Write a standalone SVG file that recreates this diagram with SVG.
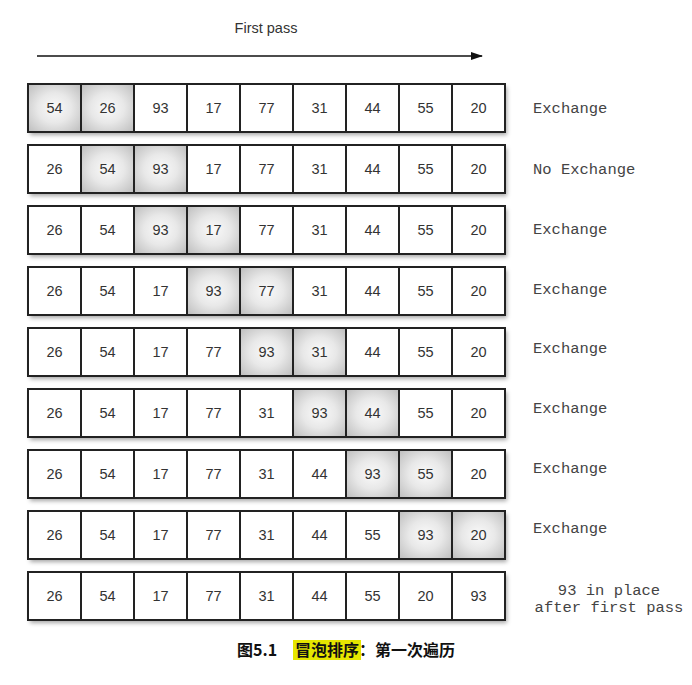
<svg xmlns="http://www.w3.org/2000/svg" width="692" height="685" viewBox="0 0 692 685">
<defs>
<radialGradient id="sh" cx="50%" cy="50%" r="70%">
<stop offset="0" stop-color="#fafafa"/>
<stop offset="0.45" stop-color="#e8e8e8"/>
<stop offset="1" stop-color="#bdbdbd"/>
</radialGradient>
<filter id="ds" x="-5%" y="-20%" width="112%" height="160%">
<feDropShadow dx="2" dy="3" stdDeviation="2" flood-color="#000" flood-opacity="0.35"/>
</filter>
<marker id="ah" markerWidth="12" markerHeight="8" refX="11" refY="4" orient="auto" markerUnits="userSpaceOnUse">
<path d="M0,0 L12,4 L0,8 z" fill="#111"/>
</marker>
</defs>
<style>
.c{fill:#fff;stroke:#222;stroke-width:2}
.s{fill:url(#sh);stroke:#222;stroke-width:2}
.n{font-family:"Liberation Sans",Arial,sans-serif;font-size:14.5px;fill:#333;text-anchor:middle}
.l{font-family:"Liberation Mono","Courier New",monospace;font-size:15.5px;fill:#444}
.t{font-family:"Liberation Sans",Arial,sans-serif;font-size:14.5px;fill:#333;text-anchor:middle}
.cap{font-family:"Noto Sans CJK SC","Liberation Serif",sans-serif;font-size:16px;font-weight:bold;fill:#111}
</style>
<rect width="692" height="685" fill="#fff"/>
<g id="header">
<text class="t" x="266" y="33">First pass</text>
</g>
<g id="connectors">
<line x1="37" y1="56" x2="482" y2="56" stroke="#111" stroke-width="1.5" marker-end="url(#ah)"/>
</g>
<g id="row1" transform="translate(0,84)">
<rect x="28" y="0" width="477" height="48" fill="#fff" filter="url(#ds)"/>
<rect class="s" x="28" y="0" width="53" height="48"/><rect class="s" x="81" y="0" width="53" height="48"/><rect class="c" x="134" y="0" width="53" height="48"/><rect class="c" x="187" y="0" width="53" height="48"/><rect class="c" x="240" y="0" width="53" height="48"/><rect class="c" x="293" y="0" width="53" height="48"/><rect class="c" x="346" y="0" width="53" height="48"/><rect class="c" x="399" y="0" width="53" height="48"/><rect class="c" x="452" y="0" width="53" height="48"/>
<text class="n" y="29"><tspan x="54.5">54</tspan><tspan x="107.5">26</tspan><tspan x="160.5">93</tspan><tspan x="213.5">17</tspan><tspan x="266.5">77</tspan><tspan x="319.5">31</tspan><tspan x="372.5">44</tspan><tspan x="425.5">55</tspan><tspan x="478.5">20</tspan></text>
<text class="l" x="533" y="29">Exchange</text>
</g>
<g id="row2" transform="translate(0,145)">
<rect x="28" y="0" width="477" height="48" fill="#fff" filter="url(#ds)"/>
<rect class="c" x="28" y="0" width="53" height="48"/><rect class="s" x="81" y="0" width="53" height="48"/><rect class="s" x="134" y="0" width="53" height="48"/><rect class="c" x="187" y="0" width="53" height="48"/><rect class="c" x="240" y="0" width="53" height="48"/><rect class="c" x="293" y="0" width="53" height="48"/><rect class="c" x="346" y="0" width="53" height="48"/><rect class="c" x="399" y="0" width="53" height="48"/><rect class="c" x="452" y="0" width="53" height="48"/>
<text class="n" y="29"><tspan x="54.5">26</tspan><tspan x="107.5">54</tspan><tspan x="160.5">93</tspan><tspan x="213.5">17</tspan><tspan x="266.5">77</tspan><tspan x="319.5">31</tspan><tspan x="372.5">44</tspan><tspan x="425.5">55</tspan><tspan x="478.5">20</tspan></text>
<text class="l" x="533" y="29">No Exchange</text>
</g>
<g id="row3" transform="translate(0,206)">
<rect x="28" y="0" width="477" height="48" fill="#fff" filter="url(#ds)"/>
<rect class="c" x="28" y="0" width="53" height="48"/><rect class="c" x="81" y="0" width="53" height="48"/><rect class="s" x="134" y="0" width="53" height="48"/><rect class="s" x="187" y="0" width="53" height="48"/><rect class="c" x="240" y="0" width="53" height="48"/><rect class="c" x="293" y="0" width="53" height="48"/><rect class="c" x="346" y="0" width="53" height="48"/><rect class="c" x="399" y="0" width="53" height="48"/><rect class="c" x="452" y="0" width="53" height="48"/>
<text class="n" y="29"><tspan x="54.5">26</tspan><tspan x="107.5">54</tspan><tspan x="160.5">93</tspan><tspan x="213.5">17</tspan><tspan x="266.5">77</tspan><tspan x="319.5">31</tspan><tspan x="372.5">44</tspan><tspan x="425.5">55</tspan><tspan x="478.5">20</tspan></text>
<text class="l" x="533" y="28">Exchange</text>
</g>
<g id="row4" transform="translate(0,267)">
<rect x="28" y="0" width="477" height="48" fill="#fff" filter="url(#ds)"/>
<rect class="c" x="28" y="0" width="53" height="48"/><rect class="c" x="81" y="0" width="53" height="48"/><rect class="c" x="134" y="0" width="53" height="48"/><rect class="s" x="187" y="0" width="53" height="48"/><rect class="s" x="240" y="0" width="53" height="48"/><rect class="c" x="293" y="0" width="53" height="48"/><rect class="c" x="346" y="0" width="53" height="48"/><rect class="c" x="399" y="0" width="53" height="48"/><rect class="c" x="452" y="0" width="53" height="48"/>
<text class="n" y="29"><tspan x="54.5">26</tspan><tspan x="107.5">54</tspan><tspan x="160.5">17</tspan><tspan x="213.5">93</tspan><tspan x="266.5">77</tspan><tspan x="319.5">31</tspan><tspan x="372.5">44</tspan><tspan x="425.5">55</tspan><tspan x="478.5">20</tspan></text>
<text class="l" x="533" y="27">Exchange</text>
</g>
<g id="row5" transform="translate(0,328)">
<rect x="28" y="0" width="477" height="48" fill="#fff" filter="url(#ds)"/>
<rect class="c" x="28" y="0" width="53" height="48"/><rect class="c" x="81" y="0" width="53" height="48"/><rect class="c" x="134" y="0" width="53" height="48"/><rect class="c" x="187" y="0" width="53" height="48"/><rect class="s" x="240" y="0" width="53" height="48"/><rect class="s" x="293" y="0" width="53" height="48"/><rect class="c" x="346" y="0" width="53" height="48"/><rect class="c" x="399" y="0" width="53" height="48"/><rect class="c" x="452" y="0" width="53" height="48"/>
<text class="n" y="29"><tspan x="54.5">26</tspan><tspan x="107.5">54</tspan><tspan x="160.5">17</tspan><tspan x="213.5">77</tspan><tspan x="266.5">93</tspan><tspan x="319.5">31</tspan><tspan x="372.5">44</tspan><tspan x="425.5">55</tspan><tspan x="478.5">20</tspan></text>
<text class="l" x="533" y="25">Exchange</text>
</g>
<g id="row6" transform="translate(0,389)">
<rect x="28" y="0" width="477" height="48" fill="#fff" filter="url(#ds)"/>
<rect class="c" x="28" y="0" width="53" height="48"/><rect class="c" x="81" y="0" width="53" height="48"/><rect class="c" x="134" y="0" width="53" height="48"/><rect class="c" x="187" y="0" width="53" height="48"/><rect class="c" x="240" y="0" width="53" height="48"/><rect class="s" x="293" y="0" width="53" height="48"/><rect class="s" x="346" y="0" width="53" height="48"/><rect class="c" x="399" y="0" width="53" height="48"/><rect class="c" x="452" y="0" width="53" height="48"/>
<text class="n" y="29"><tspan x="54.5">26</tspan><tspan x="107.5">54</tspan><tspan x="160.5">17</tspan><tspan x="213.5">77</tspan><tspan x="266.5">31</tspan><tspan x="319.5">93</tspan><tspan x="372.5">44</tspan><tspan x="425.5">55</tspan><tspan x="478.5">20</tspan></text>
<text class="l" x="533" y="24">Exchange</text>
</g>
<g id="row7" transform="translate(0,450)">
<rect x="28" y="0" width="477" height="48" fill="#fff" filter="url(#ds)"/>
<rect class="c" x="28" y="0" width="53" height="48"/><rect class="c" x="81" y="0" width="53" height="48"/><rect class="c" x="134" y="0" width="53" height="48"/><rect class="c" x="187" y="0" width="53" height="48"/><rect class="c" x="240" y="0" width="53" height="48"/><rect class="c" x="293" y="0" width="53" height="48"/><rect class="s" x="346" y="0" width="53" height="48"/><rect class="s" x="399" y="0" width="53" height="48"/><rect class="c" x="452" y="0" width="53" height="48"/>
<text class="n" y="29"><tspan x="54.5">26</tspan><tspan x="107.5">54</tspan><tspan x="160.5">17</tspan><tspan x="213.5">77</tspan><tspan x="266.5">31</tspan><tspan x="319.5">44</tspan><tspan x="372.5">93</tspan><tspan x="425.5">55</tspan><tspan x="478.5">20</tspan></text>
<text class="l" x="533" y="23">Exchange</text>
</g>
<g id="row8" transform="translate(0,511)">
<rect x="28" y="0" width="477" height="48" fill="#fff" filter="url(#ds)"/>
<rect class="c" x="28" y="0" width="53" height="48"/><rect class="c" x="81" y="0" width="53" height="48"/><rect class="c" x="134" y="0" width="53" height="48"/><rect class="c" x="187" y="0" width="53" height="48"/><rect class="c" x="240" y="0" width="53" height="48"/><rect class="c" x="293" y="0" width="53" height="48"/><rect class="c" x="346" y="0" width="53" height="48"/><rect class="s" x="399" y="0" width="53" height="48"/><rect class="s" x="452" y="0" width="53" height="48"/>
<text class="n" y="29"><tspan x="54.5">26</tspan><tspan x="107.5">54</tspan><tspan x="160.5">17</tspan><tspan x="213.5">77</tspan><tspan x="266.5">31</tspan><tspan x="319.5">44</tspan><tspan x="372.5">55</tspan><tspan x="425.5">93</tspan><tspan x="478.5">20</tspan></text>
<text class="l" x="533" y="22">Exchange</text>
</g>
<g id="row9" transform="translate(0,572)">
<rect x="28" y="0" width="477" height="48" fill="#fff" filter="url(#ds)"/>
<rect class="c" x="28" y="0" width="53" height="48"/><rect class="c" x="81" y="0" width="53" height="48"/><rect class="c" x="134" y="0" width="53" height="48"/><rect class="c" x="187" y="0" width="53" height="48"/><rect class="c" x="240" y="0" width="53" height="48"/><rect class="c" x="293" y="0" width="53" height="48"/><rect class="c" x="346" y="0" width="53" height="48"/><rect class="c" x="399" y="0" width="53" height="48"/><rect class="c" x="452" y="0" width="53" height="48"/>
<text class="n" y="29"><tspan x="54.5">26</tspan><tspan x="107.5">54</tspan><tspan x="160.5">17</tspan><tspan x="213.5">77</tspan><tspan x="266.5">31</tspan><tspan x="319.5">44</tspan><tspan x="372.5">55</tspan><tspan x="425.5">20</tspan><tspan x="478.5">93</tspan></text>
<text class="l" x="609" y="23" text-anchor="middle">93 in place</text>
<text class="l" x="609" y="40" text-anchor="middle">after first pass</text>
</g>
<g id="caption">
<rect x="293" y="640" width="68" height="20" fill="#e6e600"/>
<text class="cap" x="237" y="656">图5.1<tspan x="295">冒泡排序</tspan>：第一次遍历</text>
</g>
</svg>
